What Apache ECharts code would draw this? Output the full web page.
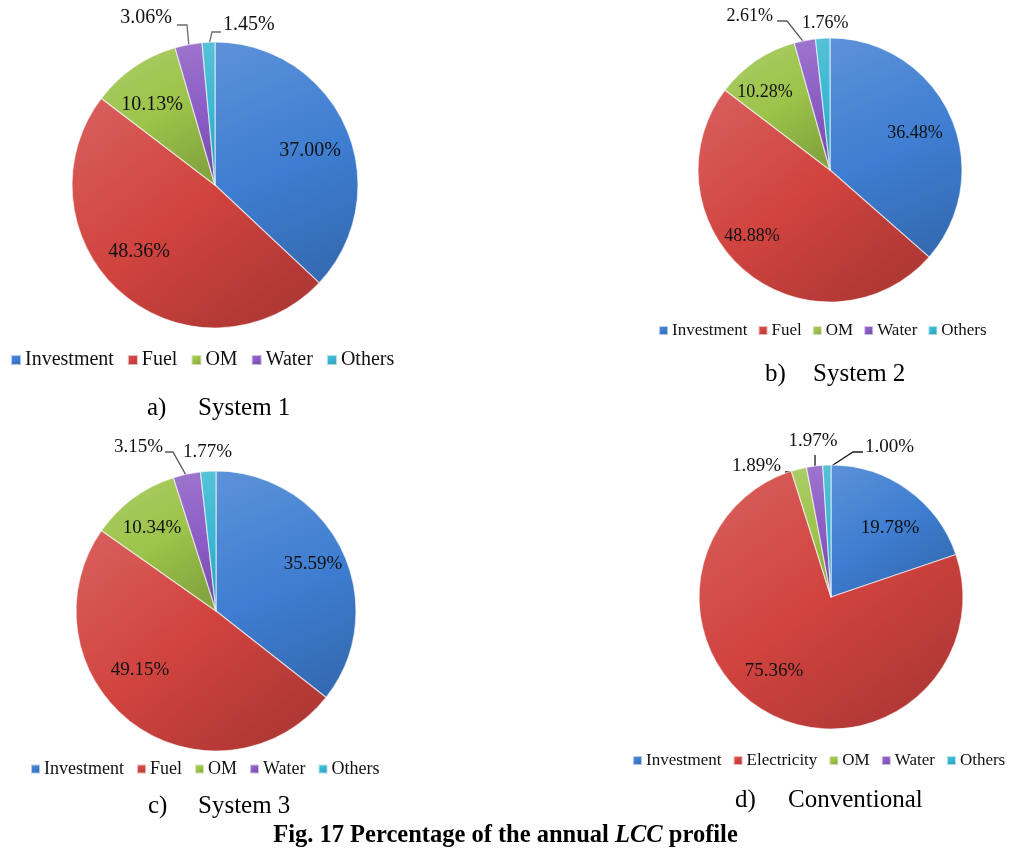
<!DOCTYPE html>
<html>
<head>
<meta charset="utf-8">
<title>Annual LCC profile</title>
<script src="https://cdn.jsdelivr.net/npm/echarts@6/dist/echarts.min.js"></script>
<style>
  html, body { margin: 0; padding: 0; background: #ffffff; }
  #chart { width: 1011px; height: 858px; }
</style>
</head>
<body>
<div id="chart"></div>
<script>
// ---- data ----
const categories = ['Investment', 'Fuel', 'OM', 'Water', 'Others'];
const categoriesConventional = ['Investment', 'Electricity', 'OM', 'Water', 'Others'];
const system1 = [37.00, 48.36, 10.13, 3.06, 1.45];
const system2 = [36.48, 48.88, 10.28, 2.61, 1.76];
const system3 = [35.59, 49.15, 10.34, 3.15, 1.77];
const conventional = [19.78, 75.36, 1.89, 1.97, 1.00];
const captionLetters = ['a)', 'b)', 'c)', 'd)'];
const captionNames = ['System 1', 'System 2', 'System 3', 'Conventional'];
const figureTitle = ['Fig. 17 Percentage of the annual ', 'LCC', ' profile'];

// ---- styling ----
const FONT = '"Liberation Serif", "Times New Roman", serif';
const baseColors = ['#3e7dd1', '#d1433f', '#9cc34a', '#8a5bc4', '#36b6d1'];

function mix(hex, target, t) {
  const a = parseInt(hex.slice(1), 16);
  const b = parseInt(target.slice(1), 16);
  const ch = (v, s) => (v >> s) & 255;
  const out = [16, 8, 0].map(s => Math.round(ch(a, s) + (ch(b, s) - ch(a, s)) * t));
  return 'rgb(' + out.join(',') + ')';
}
function shaded(hex) {
  return {
    type: 'linear', x: 0, y: 0, x2: 0.7, y2: 1,
    colorStops: [
      { offset: 0, color: mix(hex, '#ffffff', 0.16) },
      { offset: 0.55, color: hex },
      { offset: 1, color: mix(hex, '#000000', 0.16) }
    ]
  };
}

// ---- layout of each panel ----
const panels = [
  {
    names: categories, values: system1, center: [215, 185], r: 143,
    labelSize: 20, lineColor: '#6a6a6a',
    inner: { 0: [310, 151], 1: [139, 252], 2: [152, 105] },
    outer: {
      3: { at: [172, 18], align: 'right', elbow: [187, 25], end: [177, 25] },
      4: { at: [223, 25], align: 'left', elbow: [212, 32], end: [221, 32] }
    },
    legend: { left: 10, mid: 360, size: 20, icon: 10, gap: 13 },
    caption: { letterX: 147, nameX: 198, y: 410 }
  },
  {
    names: categories, values: system2, center: [830, 170], r: 132,
    labelSize: 18, lineColor: '#5a5a5a',
    inner: { 0: [915, 133], 1: [752, 236], 2: [765, 92] },
    outer: {
      3: { at: [773, 16], align: 'right', elbow: [787, 21], end: [777, 21] },
      4: { at: [802, 23], align: 'left' }
    },
    legend: { left: 658, mid: 331, size: 17, icon: 9, gap: 10 },
    caption: { letterX: 765, nameX: 813, y: 376 }
  },
  {
    names: categories, values: system3, center: [216, 611], r: 140,
    labelSize: 19, lineColor: '#5a5a5a',
    inner: { 0: [313, 564], 1: [140, 670], 2: [152, 528] },
    outer: {
      3: { at: [163, 447], align: 'right', elbow: [173, 452], end: [165, 452] },
      4: { at: [183, 452], align: 'left' }
    },
    legend: { left: 30, mid: 769, size: 18, icon: 9, gap: 12 },
    caption: { letterX: 148, nameX: 198, y: 808 }
  },
  {
    names: categoriesConventional, values: conventional, center: [831, 597], r: 132,
    labelSize: 19, lineColor: '#1a1a1a',
    inner: { 0: [890, 528], 1: [774, 671] },
    outer: {
      2: { at: [781, 466], align: 'right', elbow: [798, 472], end: [785, 472] },
      3: { at: [813, 441], align: 'center', elbow: [815, 456], end: [815, 455] },
      4: { at: [865, 447], align: 'left', elbow: [853, 452], end: [863, 452] }
    },
    legend: { left: 632, mid: 761, size: 17, icon: 9, gap: 11 },
    caption: { letterX: 735, nameX: 788, y: 802 }
  }
];

function makeLabelLayout(p) {
  const total = p.values.reduce((s, v) => s + v, 0);
  const starts = [];
  p.values.reduce((acc, v, i) => { starts[i] = acc; return acc + v; }, 0);
  return function (params) {
    const i = params.dataIndex;
    const o = p.outer[i];
    if (o) {
      const mid = (starts[i] + p.values[i] / 2) / total * Math.PI * 2;
      const edge = [p.center[0] + 0.97 * p.r * Math.sin(mid), p.center[1] - 0.97 * p.r * Math.cos(mid)];
      const res = { x: o.at[0], y: o.at[1], align: o.align, verticalAlign: 'middle' };
      if (o.elbow) res.labelLinePoints = [edge, o.elbow, o.end];
      return res;
    }
    const q = p.inner[i];
    return { x: q[0], y: q[1], align: 'center', verticalAlign: 'middle' };
  };
}

const series = panels.map(p => ({
  type: 'pie',
  center: p.center,
  radius: p.r,
  startAngle: 90,
  clockwise: true,
  avoidLabelOverlap: false,
  animation: false,
  emphasis: { disabled: true },
  data: p.names.map((n, i) => ({
    name: n,
    value: p.values[i],
    itemStyle: { color: shaded(baseColors[i]) },
    labelLine: { show: !!(p.outer[i] && p.outer[i].elbow) }
  })),
  itemStyle: { borderColor: 'rgba(255,255,255,0.6)', borderWidth: 1.2 },
  label: {
    show: true,
    position: 'outside',
    formatter: d => d.value.toFixed(2) + '%',
    fontFamily: FONT,
    fontSize: p.labelSize,
    color: '#111'
  },
  labelLine: {
    show: false,
    lineStyle: { color: p.lineColor, width: 1.3 }
  },
  labelLayout: makeLabelLayout(p)
}));

const legends = panels.map(p => ({
  data: p.names,
  orient: 'horizontal',
  left: p.legend.left,
  top: p.legend.mid - Math.round(p.legend.size * 0.5),
  width: 420,
  padding: 0,
  icon: 'rect',
  itemWidth: p.legend.icon,
  itemHeight: p.legend.icon,
  itemGap: p.legend.gap,
  selectedMode: false,
  textStyle: { fontFamily: FONT, fontSize: p.legend.size, color: '#111', padding: [0, 0, 0, -1] }
}));

const captionGraphics = [];
panels.forEach((p, k) => {
  captionGraphics.push({
    type: 'text', left: p.caption.letterX, top: p.caption.y - 14,
    style: { text: captionLetters[k], font: '25px ' + FONT, fill: '#000' }
  });
  captionGraphics.push({
    type: 'text', left: p.caption.nameX, top: p.caption.y - 14,
    style: { text: captionNames[k], font: '25px ' + FONT, fill: '#000' }
  });
});

const chart = echarts.init(document.getElementById('chart'), null, { renderer: 'canvas' });
chart.setOption({
  backgroundColor: '#ffffff',
  animation: false,
  title: {
    text: '{b|' + figureTitle[0] + '}{i|' + figureTitle[1] + '}{b|' + figureTitle[2] + '}',
    left: 'center',
    top: 823,
    padding: 0,
    textStyle: {
      rich: {
        b: { fontFamily: FONT, fontSize: 24.5, fontWeight: 'bold', color: '#000' },
        i: { fontFamily: FONT, fontSize: 24.5, fontWeight: 'bold', fontStyle: 'italic', color: '#000' }
      }
    }
  },
  legend: legends,
  graphic: captionGraphics,
  series: series
});
</script>
</body>
</html>
